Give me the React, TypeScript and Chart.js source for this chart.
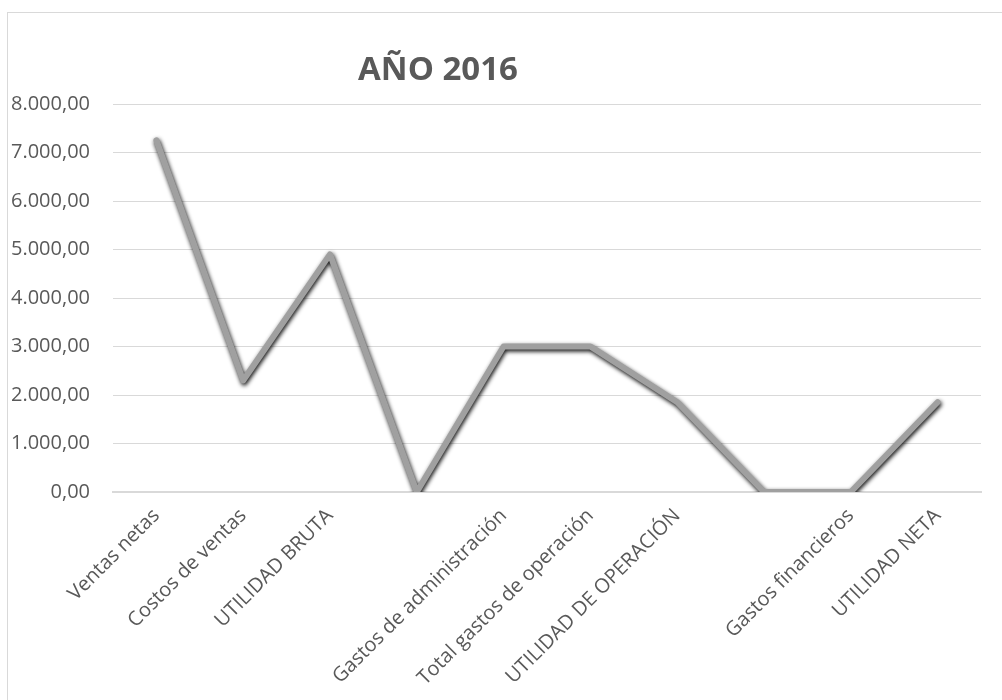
import React, { useEffect, useRef } from "react";
import { Chart, registerables } from "chart.js";

Chart.register(...registerables);

const TITLE = "AÑO 2016";
const categories = [
  "Ventas netas",
  "Costos de ventas",
  "UTILIDAD BRUTA",
  "",
  "Gastos de administración",
  "Total gastos de operación",
  "UTILIDAD DE OPERACIÓN",
  "",
  "Gastos financieros",
  "UTILIDAD NETA",
];
const values = [7250, 2300, 4900, 0, 3000, 3000, 1850, 0, 0, 1850];
const yMin = 0;
const yMax = 8000;
const yStep = 1000;

function formatEs(v: number): string {
  const fixed = Math.abs(v).toFixed(2);
  const [intPart, dec] = fixed.split(".");
  const grouped = intPart.replace(/\B(?=(\d{3})+(?!\d))/g, ".");
  return (v < 0 ? "-" : "") + grouped + "," + dec;
}

const shadowPlugin = {
  id: "lineShadow",
  beforeDatasetsDraw(chart: any) {
    const ctx = chart.ctx;
    ctx.save();
    ctx.shadowColor = "rgba(0,0,0,0.95)";
    ctx.shadowBlur = 4;
    ctx.shadowOffsetX = 1;
    ctx.shadowOffsetY = 2;
  },
  afterDatasetsDraw(chart: any) {
    chart.ctx.restore();
  },
};

const titlePlugin = {
  id: "customTitle",
  afterDraw(chart: any) {
    const ctx = chart.ctx;
    ctx.save();
    ctx.font = "bold 33px 'Open Sans'";
    ctx.fillStyle = "#595959";
    ctx.textAlign = "center";
    ctx.textBaseline = "alphabetic";
    ctx.fillText(TITLE, 430, 67);
    ctx.restore();
  },
};

export default function App() {
  const ref = useRef<HTMLCanvasElement | null>(null);

  useEffect(() => {
    if (!ref.current) return;
    const chart = new Chart(ref.current, {
      type: "line",
      data: {
        labels: categories,
        datasets: [
          {
            data: values,
            borderColor: "#a0a0a0",
            borderWidth: 6,
            borderJoinStyle: "round",
            borderCapStyle: "round",
            pointRadius: 0,
            pointHoverRadius: 0,
            tension: 0,
            fill: false,
          },
        ],
      },
      options: {
        animation: false,
        responsive: false,
        maintainAspectRatio: false,
        layout: { padding: { top: 91, right: 21, bottom: 0, left: 0 } },
        plugins: {
          legend: { display: false },
          title: { display: false },
          tooltip: { enabled: false },
        },
        scales: {
          x: {
            offset: true,
            grid: { display: false, drawTicks: false },
            border: { display: true, color: "#d9d9d9", width: 2 },
            ticks: {
              color: "#595959",
              font: { family: "'Open Sans'", size: 20 },
              maxRotation: 45,
              minRotation: 45,
              autoSkip: false,
              padding: 12,
            },
            afterFit(scale: any) {
              scale.height = 208;
            },
          },
          y: {
            min: yMin,
            max: yMax,
            ticks: {
              stepSize: yStep,
              color: "#595959",
              font: { family: "'Open Sans'", size: 20 },
              padding: 23,
              callback: (v: any) => formatEs(Number(v)),
            },
            grid: { color: "#d9d9d9", lineWidth: 1, drawTicks: false },
            border: { display: false },
            afterFit(scale: any) {
              scale.width = 105;
            },
          },
        },
      },
      plugins: [shadowPlugin, titlePlugin],
    });
    return () => chart.destroy();
  }, []);

  return (
    <div
      style={{
        position: "absolute",
        left: 7,
        top: 12,
        width: 994,
        height: 687,
        borderLeft: "1px solid #d9d9d9",
        borderTop: "1px solid #d9d9d9",
        background: "#fff",
      }}
    >
      <canvas ref={ref} width={994} height={687} style={{ display: "block" }} />
    </div>
  );
}
